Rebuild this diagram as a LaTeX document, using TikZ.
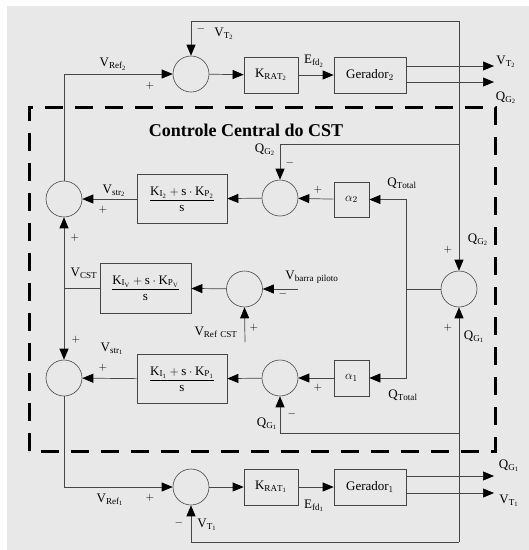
\documentclass[tikz,border=0pt]{standalone}
\usepackage{amsmath, amssymb}
\usepackage{fontspec}
\setmainfont{Liberation Serif}
\usepackage{tikz}
\usetikzlibrary{arrows.meta, calc, positioning}

\definecolor{panel}{RGB}{232,232,232}
\definecolor{wire}{RGB}{70,70,70}

\tikzset{
  sumnode/.style={circle, draw=wire, line width=0.6pt, minimum size=36pt, inner sep=0pt},
  blk/.style={draw=wire, line width=0.7pt, inner sep=0pt, font=\fontsize{13}{15}\selectfont},
  arr/.style={wire, line width=0.7pt, -{Triangle[length=11pt,width=9pt,color=black]}},
  wir/.style={wire, line width=0.7pt},
  lbl/.style={inner sep=0pt, font=\fontsize{13}{15}\selectfont},
  sgn/.style={inner sep=0pt, font=\fontsize{11}{13}\selectfont}
}

\begin{document}
\begin{tikzpicture}[x=1pt, y=-1pt]
  % Background
  \useasboundingbox (0,0) rectangle (529,550);
  \fill[white] (0,0) rectangle (529,550);
  \fill[panel] (7,6) rectangle (529,550);

  % Central control frame
  \draw[line width=3pt, dash pattern=on 18pt off 12pt] (29,451) -- (29,107) -- (495,107) -- (495,451) -- cycle;
  \node[font=\fontsize{18}{20}\selectfont\bfseries] (title) at (246,130) {Controle Central do CST};

  % Blocks, upper generator
  \node[sumnode] (S2) at (191,74) {};
  \node[blk, minimum width=54pt, minimum height=36pt] (KRAT2) at (271,75) {$\mathrm{K_{RAT_2}}$};
  \node[blk, minimum width=72pt, minimum height=36pt] (G2) at (370,75) {Gerador$_2$};

  % Blocks, lower generator
  \node[sumnode] (S1) at (191,487) {};
  \node[blk, minimum width=54pt, minimum height=36pt] (KRAT1) at (271,487) {$\mathrm{K_{RAT_1}}$};
  \node[blk, minimum width=72pt, minimum height=36pt] (G1) at (370,487) {Gerador$_1$};

  % Blocks, central control
  \node[sumnode] (SA) at (64,199) {};
  \node[blk, minimum width=90pt, minimum height=49pt] (PI2) at (182,199) {$\dfrac{\mathrm{K_{I_2}}+\mathrm{s}\cdot\mathrm{K_{P_2}}}{\mathrm{s}}$};
  \node[sumnode] (SB) at (280,198) {};
  \node[blk, minimum width=35pt, minimum height=35pt] (AL2) at (351.5,199.5) {$\alpha_2$};

  \node[blk, minimum width=91pt, minimum height=50pt] (PIV) at (145.5,288) {$\dfrac{\mathrm{K_{I_V}}+\mathrm{s}\cdot\mathrm{K_{P_V}}}{\mathrm{s}}$};
  \node[sumnode] (SV) at (244.5,289) {};
  \node[sumnode] (SC) at (459,289) {};

  \node[sumnode] (SD) at (64,378) {};
  \node[blk, minimum width=90pt, minimum height=49pt] (PI1) at (182,379) {$\dfrac{\mathrm{K_{I_1}}+\mathrm{s}\cdot\mathrm{K_{P_1}}}{\mathrm{s}}$};
  \node[sumnode] (SE) at (280,378) {};
  \node[blk, minimum width=35pt, minimum height=36pt] (AL1) at (351.5,378) {$\alpha_1$};

  % Branch points and free ends
  \coordinate (TR) at (459,21);
  \coordinate (BR) at (459,542);
  \coordinate (QG2) at (459,144);
  \coordinate (QG1) at (459,433);
  \coordinate (QT) at (406,289);
  \coordinate (VC) at (64,288);
  \coordinate (VB) at (298,289);
  \coordinate (VR) at (245,342);
  \coordinate (OV2) at (494,66);
  \coordinate (OQ2) at (494,82);
  \coordinate (OQ1) at (494,476);
  \coordinate (OV1) at (494,493);

  % Generator loops
  \draw[arr] (S2) -- (KRAT2);
  \draw[arr] (KRAT2) -- (G2);
  \draw[arr] (G2.east |- OV2) -- (OV2);
  \draw[arr] (G2.east |- OQ2) -- (OQ2);
  \draw[arr] (S1) -- (KRAT1);
  \draw[arr] (KRAT1) -- (G1);
  \draw[arr] (G1.east |- OQ1) -- (OQ1);
  \draw[arr] (G1.east |- OV1) -- (OV1);
  \draw[arr] (TR) -| (S2.north);
  \draw[arr] (BR) -| (S1.south);
  \draw[arr] (SA.north) |- (S2.west);
  \draw[arr] (SD.south) |- (S1.west);

  % Reactive power sharing
  \draw[arr] (TR) -- (SC.north);
  \draw[arr] (BR) -- (SC.south);
  \draw[arr] (QG2) -| (SB.north);
  \draw[arr] (QG1) -| (SE.south);
  \draw[wir] (SC.west) -- (QT);
  \draw[arr] (QT) |- (AL2.east);
  \draw[arr] (QT) |- (AL1.east);
  \draw[arr] (AL2) -- (SB);
  \draw[arr] (SB) -- (PI2);
  \draw[arr] (PI2) -- (SA);
  \draw[arr] (AL1) -- (SE);
  \draw[arr] (SE) -- (PI1);
  \draw[arr] (PI1) -- (SD);

  % Pilot bus voltage loop
  \draw[arr] (VB) -- (SV.east);
  \draw[arr] (VR) -- (SV.south);
  \draw[arr] (SV) -- (PIV);
  \draw[wir] (PIV.west) -- (VC);
  \draw[arr] (VC) -- (SA.south);
  \draw[arr] (VC) -- (SD.north);

  % Labels, top
  \node[sgn] at (201,29) {$-$};
  \node[lbl] at (224,34) {$\mathrm{V_{T_2}}$};
  \node[lbl] at (113,64) {$\mathrm{V_{Ref_2}}$};
  \node[sgn] at (150,86) {$+$};
  \node[lbl] at (314,61) {$\mathrm{E_{fd_2}}$};
  \node[lbl] at (506,62) {$\mathrm{V_{T_2}}$};
  \node[lbl] at (506,98) {$\mathrm{Q_{G_2}}$};

  % Labels, central control
  \node[lbl] at (265,150) {$\mathrm{Q_{G_2}}$};
  \node[sgn] at (290,163) {$-$};
  \node[sgn] at (318,190) {$+$};
  \node[lbl] at (402,183) {$\mathrm{Q_{Total}}$};
  \node[lbl] at (114,191) {$\mathrm{V_{str_2}}$};
  \node[sgn] at (103,210) {$+$};
  \node[sgn] at (75,238) {$+$};
  \node[lbl] at (478,240) {$\mathrm{Q_{G_2}}$};
  \node[sgn] at (448,250) {$+$};
  \node[lbl] at (84,273) {$\mathrm{V_{CST}}$};
  \node[lbl] at (312,277) {$\mathrm{V_{barra\ piloto}}$};
  \node[sgn] at (283,294) {$-$};
  \node[lbl] at (216,332) {$\mathrm{V_{Ref\ CST}}$};
  \node[sgn] at (254,328) {$+$};
  \node[sgn] at (448,328) {$+$};
  \node[lbl] at (474,337) {$\mathrm{Q_{G_1}}$};
  \node[sgn] at (76,340) {$+$};
  \node[lbl] at (112,349) {$\mathrm{V_{str_1}}$};
  \node[sgn] at (103,368) {$+$};
  \node[sgn] at (318,388) {$+$};
  \node[lbl] at (403,395) {$\mathrm{Q_{Total}}$};
  \node[sgn] at (292,414) {$-$};
  \node[lbl] at (267,424) {$\mathrm{Q_{G_1}}$};

  % Labels, bottom
  \node[lbl] at (110,500) {$\mathrm{V_{Ref_1}}$};
  \node[sgn] at (150,498) {$+$};
  \node[sgn] at (179,523) {$-$};
  \node[lbl] at (207,525) {$\mathrm{V_{T_1}}$};
  \node[lbl] at (314,506) {$\mathrm{E_{fd_1}}$};
  \node[lbl] at (509,466) {$\mathrm{Q_{G_1}}$};
  \node[lbl] at (509,501) {$\mathrm{V_{T_1}}$};
\end{tikzpicture}
\end{document}
